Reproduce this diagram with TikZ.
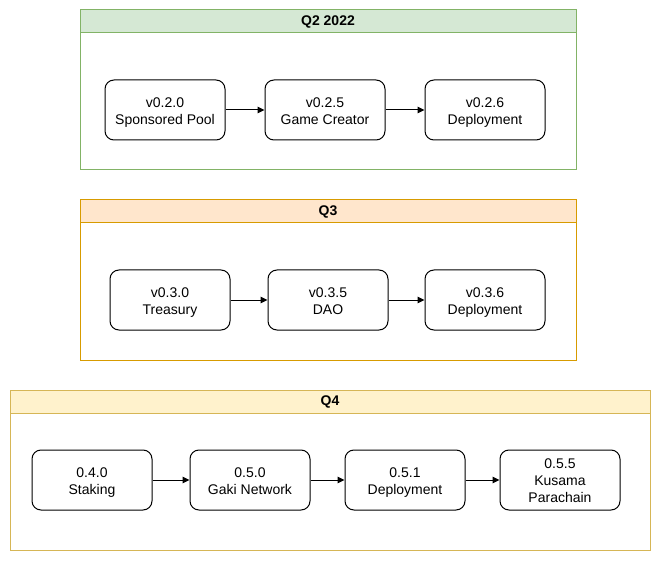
\documentclass[tikz,border=0pt]{standalone}
\usepackage{fontspec}
\setmainfont{Liberation Sans}
\usetikzlibrary{arrows.meta}
\definecolor{grfill}{HTML}{D5E8D4}
\definecolor{grline}{HTML}{82B366}
\definecolor{orfill}{HTML}{FFE6CC}
\definecolor{orline}{HTML}{D79B00}
\definecolor{yefill}{HTML}{FFF2CC}
\definecolor{yeline}{HTML}{D6B656}
\newcommand{\steptext}[1]{\begin{tabular}{@{}c@{}}\rule{0pt}{16.5pt}#1\end{tabular}}
\tikzset{
  txt/.style={font=\fontsize{14}{16.8}\selectfont},
  stepbox/.style={txt, draw=black, line width=1pt, rounded corners=9pt,
    minimum width=120pt, minimum height=60pt, inner sep=0pt, fill=white},
  panelbox/.style={draw=#1, line width=1pt, inner sep=0pt, minimum height=160pt},
  headbox/.style={txt, font=\fontsize{14}{16.8}\selectfont\bfseries, line width=1pt, inner sep=0pt, minimum height=23pt},
  conn/.style={-{Stealth[length=7pt,width=6.5pt,inset=0pt]}, line width=1pt, black}
}
\begin{document}
\begin{tikzpicture}[x=1pt,y=-1pt]
\useasboundingbox (0,0) rectangle (661,561);
% Q2 2022
\node[panelbox=grline, minimum width=496pt] (p1) at (328,90) {};
\node[headbox, draw=grline, fill=grfill, minimum width=496pt] (h1) at (328,21.5) {Q2 2022};
\node[stepbox] (a1) at (165,110) {\steptext{v0.2.0\\Sponsored Pool}};
\node[stepbox] (a2) at (325,110) {\steptext{v0.2.5\\Game Creator}};
\node[stepbox] (a3) at (485,110) {\steptext{v0.2.6\\Deployment}};
\draw[conn] (a1) -- (a2);
\draw[conn] (a2) -- (a3);
% Q3
\node[panelbox=orline, minimum width=496pt] (p2) at (328,280) {};
\node[headbox, draw=orline, fill=orfill, minimum width=496pt] (h2) at (328,211.5) {Q3};
\node[stepbox] (b1) at (170,300) {\steptext{v0.3.0\\Treasury}};
\node[stepbox] (b2) at (328,300) {\steptext{v0.3.5\\DAO}};
\node[stepbox] (b3) at (485,300) {\steptext{v0.3.6\\Deployment}};
\draw[conn] (b1) -- (b2);
\draw[conn] (b2) -- (b3);
% Q4
\node[panelbox=yeline, minimum width=640pt] (p3) at (330,470) {};
\node[headbox, draw=yeline, fill=yefill, minimum width=640pt] (h3) at (330,401.5) {Q4};
\node[stepbox] (c1) at (92,480) {\steptext{0.4.0\\Staking}};
\node[stepbox] (c2) at (250,480) {\steptext{0.5.0\\Gaki Network}};
\node[stepbox] (c3) at (405,480) {\steptext{0.5.1\\Deployment}};
\node[stepbox] (c4) at (560,480) {\steptext{0.5.5\\Kusama\\Parachain}};
\draw[conn] (c1) -- (c2);
\draw[conn] (c2) -- (c3);
\draw[conn] (c3) -- (c4);
\end{tikzpicture}
\end{document}
